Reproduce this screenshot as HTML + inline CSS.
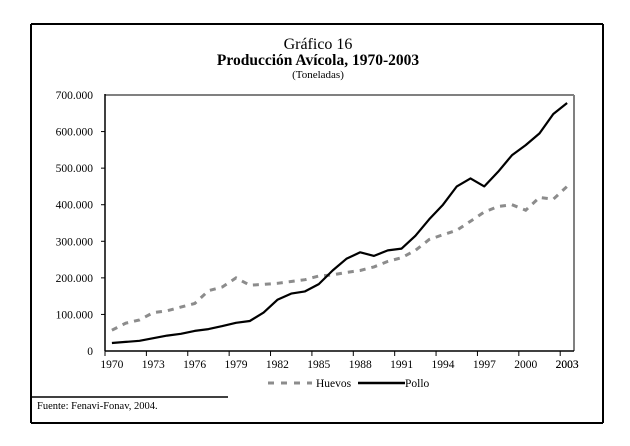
<!DOCTYPE html>
<html><head><meta charset="utf-8"><style>
html,body{margin:0;padding:0;background:#fff;}
svg{display:block;}
text{font-family:"Liberation Serif",serif;fill:#000;}
</style></head><body>
<svg width="630" height="446" viewBox="0 0 630 446" xmlns="http://www.w3.org/2000/svg">
<line x1="31" y1="24" x2="603" y2="24" stroke="#000" stroke-width="2"/>
<line x1="31" y1="24" x2="31" y2="423" stroke="#000" stroke-width="2"/>
<line x1="603" y1="24" x2="603" y2="423" stroke="#000" stroke-width="2"/>
<line x1="31" y1="423" x2="603" y2="423" stroke="#000" stroke-width="2"/>
<text x="318" y="49" font-size="16" text-anchor="middle">Gráfico 16</text>
<text x="318" y="65" font-size="15.5" font-weight="bold" text-anchor="middle">Producción Avícola, 1970-2003</text>
<text x="318" y="78" font-size="11" text-anchor="middle">(Toneladas)</text>
<line x1="105" y1="95" x2="574" y2="95" stroke="#808080" stroke-width="2"/>
<line x1="574" y1="95" x2="574" y2="351" stroke="#808080" stroke-width="2"/>
<line x1="105" y1="94" x2="105" y2="351" stroke="#000" stroke-width="1.5"/>
<line x1="105" y1="351" x2="574" y2="351" stroke="#000" stroke-width="1.5"/>
<g id="yt" font-size="11.5" text-anchor="end"></g>
<g id="xt" font-size="11.5" text-anchor="middle"></g>
<polyline id="hu" fill="none" stroke="#8c8c8c" stroke-width="3" stroke-dasharray="6,6"/>
<polyline id="po" fill="none" stroke="#000" stroke-width="2.2" stroke-linejoin="round"/>
<line x1="268" y1="383" x2="312" y2="383" stroke="#8c8c8c" stroke-width="3" stroke-dasharray="6,7"/>
<text x="316" y="387" font-size="11.5">Huevos</text>
<line x1="358" y1="383" x2="405" y2="383" stroke="#000" stroke-width="2.5"/>
<text x="405" y="387" font-size="11.5">Pollo</text>
<line x1="31" y1="397" x2="228" y2="397" stroke="#000" stroke-width="1.5"/>
<text x="37" y="409" font-size="10.5">Fuente: Fenavi-Fonav, 2004.</text>
</svg>
<script>
var L=105,R=574,B=351,T=95,n=34,w=(R-L)/n,k=(B-T)/700;
var ns="http://www.w3.org/2000/svg";
function el(t,a,p,txt){var e=document.createElementNS(ns,t);for(var i in a)e.setAttribute(i,a[i]);if(txt)e.textContent=txt;p.appendChild(e);}
var yt=document.getElementById('yt'),xt=document.getElementById('xt'),s=document.querySelector('svg');
for(var v=0;v<=700;v+=100){var y=B-v*k;el('text',{x:93,y:y+4},yt,v==0?'0':(v+'.000'));
if(v>0&&v<700)el('line',{x1:101,y1:y,x2:105,y2:y,stroke:'#000'},s);}
for(var i=0;i<n;i+=3){var x=L+i*w;el('line',{x1:x,y1:B,x2:x,y2:B+5,stroke:'#000'},s);
el('text',{x:L+(i+0.5)*w,y:368},xt,String(1970+i));}
el('text',{x:L+33.5*w,y:368},xt,'2003');
var po=[22,25,28,35,42,47,55,60,68,77,82,105,140,157,163,183,220,252,270,260,275,280,315,360,400,450,472,450,490,535,563,595,648,678];
var hu=[57,76,85,105,110,120,130,165,175,200,180,182,185,190,195,205,208,215,220,230,245,255,275,305,318,330,355,380,395,400,385,420,415,450];
function pts(a){return a.map(function(v,i){return (L+(i+0.5)*w).toFixed(1)+','+(B-v*k).toFixed(1)}).join(' ');}
document.getElementById('po').setAttribute('points',pts(po));
document.getElementById('hu').setAttribute('points',pts(hu));
</script>
</body></html>
